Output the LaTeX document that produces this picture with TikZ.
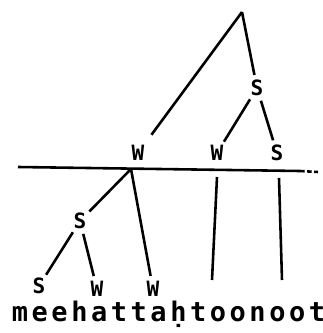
\documentclass[tikz,border=0pt]{standalone}
\usepackage{fontspec}
\setmonofont{DejaVu Sans Mono}
\usetikzlibrary{positioning}

\begin{document}
\begin{tikzpicture}[x=0.03cm, y=-0.03cm, line width=2.2pt,
          lab/.style={circle, inner sep=0pt, minimum size=0.72cm, font=\ttfamily\bfseries\fontsize{18}{19}\selectfont},
          ltr/.style={inner sep=0pt, anchor=base, font=\ttfamily\bfseries\fontsize{23}{24}\selectfont}]
        \useasboundingbox (0,0) rectangle (322,333);
        % upper tree
        \coordinate (r) at (242,12);
        \node[lab] (s1) at (257,88) {S};
        \node[lab] (w1) at (138,153) {W};
        \node[lab] (w2) at (217,153) {W};
        \node[lab] (s2) at (277,153) {S};
        \draw (r)--(s1);
        \draw[shorten >=8pt] (r)--(w1);
        \draw (s1)--(w2);
        \draw (s1)--(s2);
        % the line
        \coordinate (la) at (18,167);
        \coordinate (lb) at (300,171);
        \coordinate (lc) at (318,172);
        \draw (la)--(lb);
        \draw[dash pattern=on 4pt off 2pt] (lb)--(lc);
        % lower tree
        \coordinate (j) at (131,169);
        \node[lab] (s3) at (80,221) {S};
        \node[lab] (s4) at (39,286) {S};
        \node[lab] (w3) at (97,289) {W};
        \node[lab] (w4) at (153,289) {W};
        \draw (j)--(s3);
        \draw (j)--(w4);
        \draw (s3)--(s4);
        \draw (s3)--(w3);
        \coordinate (m1) at (217,177);
        \coordinate (m2) at (212,280);
        \coordinate (n1) at (279,178);
        \coordinate (n2) at (282,280);
        \draw (m1)--(m2);
        \draw (n1)--(n2);
        % the word
        \foreach \c [count=\i] in {m,e,e,h,a,t,t,a,ḥ,t,o,o,n,o,o,t}
          \node[ltr] (c\i) at ({20+19.8*(\i-1)},321) {\c};
      \end{tikzpicture}
\end{document}
